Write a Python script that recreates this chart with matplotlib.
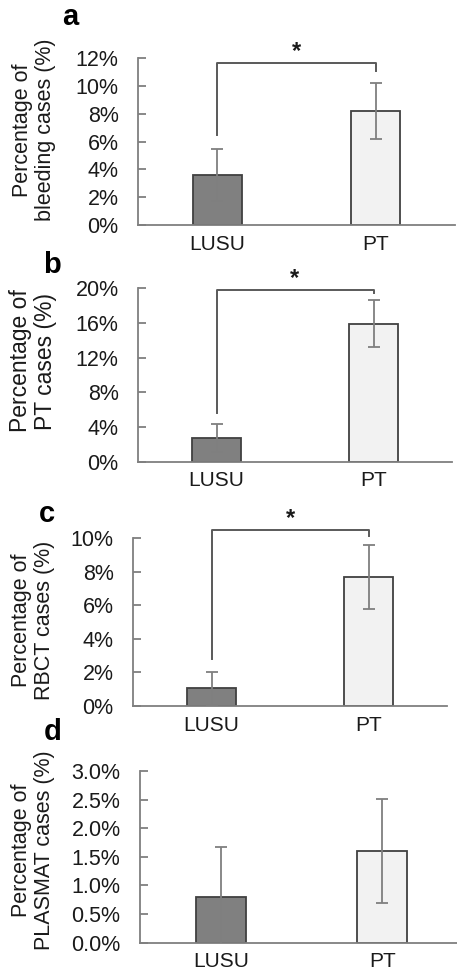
import matplotlib
matplotlib.use("Agg")
import matplotlib.pyplot as plt
from matplotlib.ticker import FuncFormatter

plt.rcParams['font.family'] = ['Liberation Sans', 'DejaVu Sans']

groups = ['LUSU', 'PT']
panel_letters = ['a', 'b', 'c', 'd']
ylabels = ['Percentage of\nbleeding cases (%)',
           'Percentage of\nPT cases (%)',
           'Percentage of\nRBCT cases (%)',
           'Percentage of\nPLASMAT cases (%)']

# percentages
bleeding = [3.6, 8.2]
bleeding_err = [1.9, 2.0]
pt_cases = [2.7, 15.9]
pt_err = [1.6, 2.7]
rbct = [1.05, 7.7]
rbct_err = [1.0, 1.9]
plasmat = [0.8, 1.6]
plasmat_err = [0.88, 0.91]

values = [bleeding, pt_cases, rbct, plasmat]
errors = [bleeding_err, pt_err, rbct_err, plasmat_err]
ymax = [12, 20, 10, 3.0]
ystep = [2, 4, 2, 0.5]
decimals = [0, 0, 0, 1]
# significance bracket: height, left leg end, right leg end (None = no bracket)
brackets = [(11.63, 6.5, 11.1), (19.8, 5.6, 19.5), (10.5, 2.8, 10.15), None]

# layout in pixels
boxes = [(138, 58.3, 225, 317), (138, 288.3, 461.7, 314),
         (133, 538.3, 706, 314), (140, 771, 942.7, 323)]
letter_pos = [(70, 25), (52, 273), (47, 522), (53, 740)]
label_pos = [(34, 130), (33, 361), (33, 620), (33, 850)]
label_size = [15.5, 16.5, 15.5, 15.5]

W, H = 457, 976
fig = plt.figure(figsize=(W / 100, H / 100), dpi=100)

text_col = '#1a1a1a'
for i in range(4):
    l, t, b, w = boxes[i]
    ax = fig.add_axes([l / W, 1 - b / H, w / W, (b - t) / H])
    x = range(len(groups))
    ax.bar(x, values[i], width=0.31, color=['#808080', '#f2f2f2'],
           edgecolor='#404040', linewidth=1.3, zorder=2)
    ax.errorbar(x, values[i], yerr=errors[i], fmt='none', ecolor='#7f7f7f',
                elinewidth=1.3, capsize=4, capthick=1.3, zorder=3)
    ax.set_xlim(-0.5, 1.5)
    ax.set_ylim(0, ymax[i])
    n = int(round(ymax[i] / ystep[i]))
    ax.set_yticks([k * ystep[i] for k in range(n + 1)])
    d = decimals[i]
    ax.yaxis.set_major_formatter(FuncFormatter(lambda v, p, d=d: f'{v:.{d}f}%'))
    ax.set_xticks(list(x))
    ax.set_xticklabels(groups)
    for s in ['top', 'right']:
        ax.spines[s].set_visible(False)
    for s in ['left', 'bottom']:
        ax.spines[s].set_color('#7f7f7f')
        ax.spines[s].set_linewidth(1.3)
    ax.tick_params(axis='y', direction='in', length=6, width=1.3, color='#7f7f7f',
                   labelsize=15.5, labelcolor=text_col, pad=14)
    ax.tick_params(axis='x', length=0, labelsize=15, labelcolor=text_col, pad=7)
    if brackets[i] is not None:
        hb, l0, l1 = brackets[i]
        ax.plot([0, 0, 1, 1], [l0, hb, hb, l1], color='#595959', lw=1.4,
                clip_on=False, zorder=4)
        ax.text(0.5, hb, '*', ha='center', va='bottom', fontsize=17,
                color=text_col, fontweight='bold')
    fig.text(label_pos[i][0] / W, 1 - label_pos[i][1] / H, ylabels[i],
             rotation=90, ha='center', va='center', multialignment='center',
             fontsize=label_size[i], color=text_col, linespacing=1.15)
    fig.text(letter_pos[i][0] / W, 1 - letter_pos[i][1] / H, panel_letters[i],
             fontsize=21, fontweight='bold', ha='center', va='baseline',
             color='black')

fig.savefig('out.png', dpi=100)
